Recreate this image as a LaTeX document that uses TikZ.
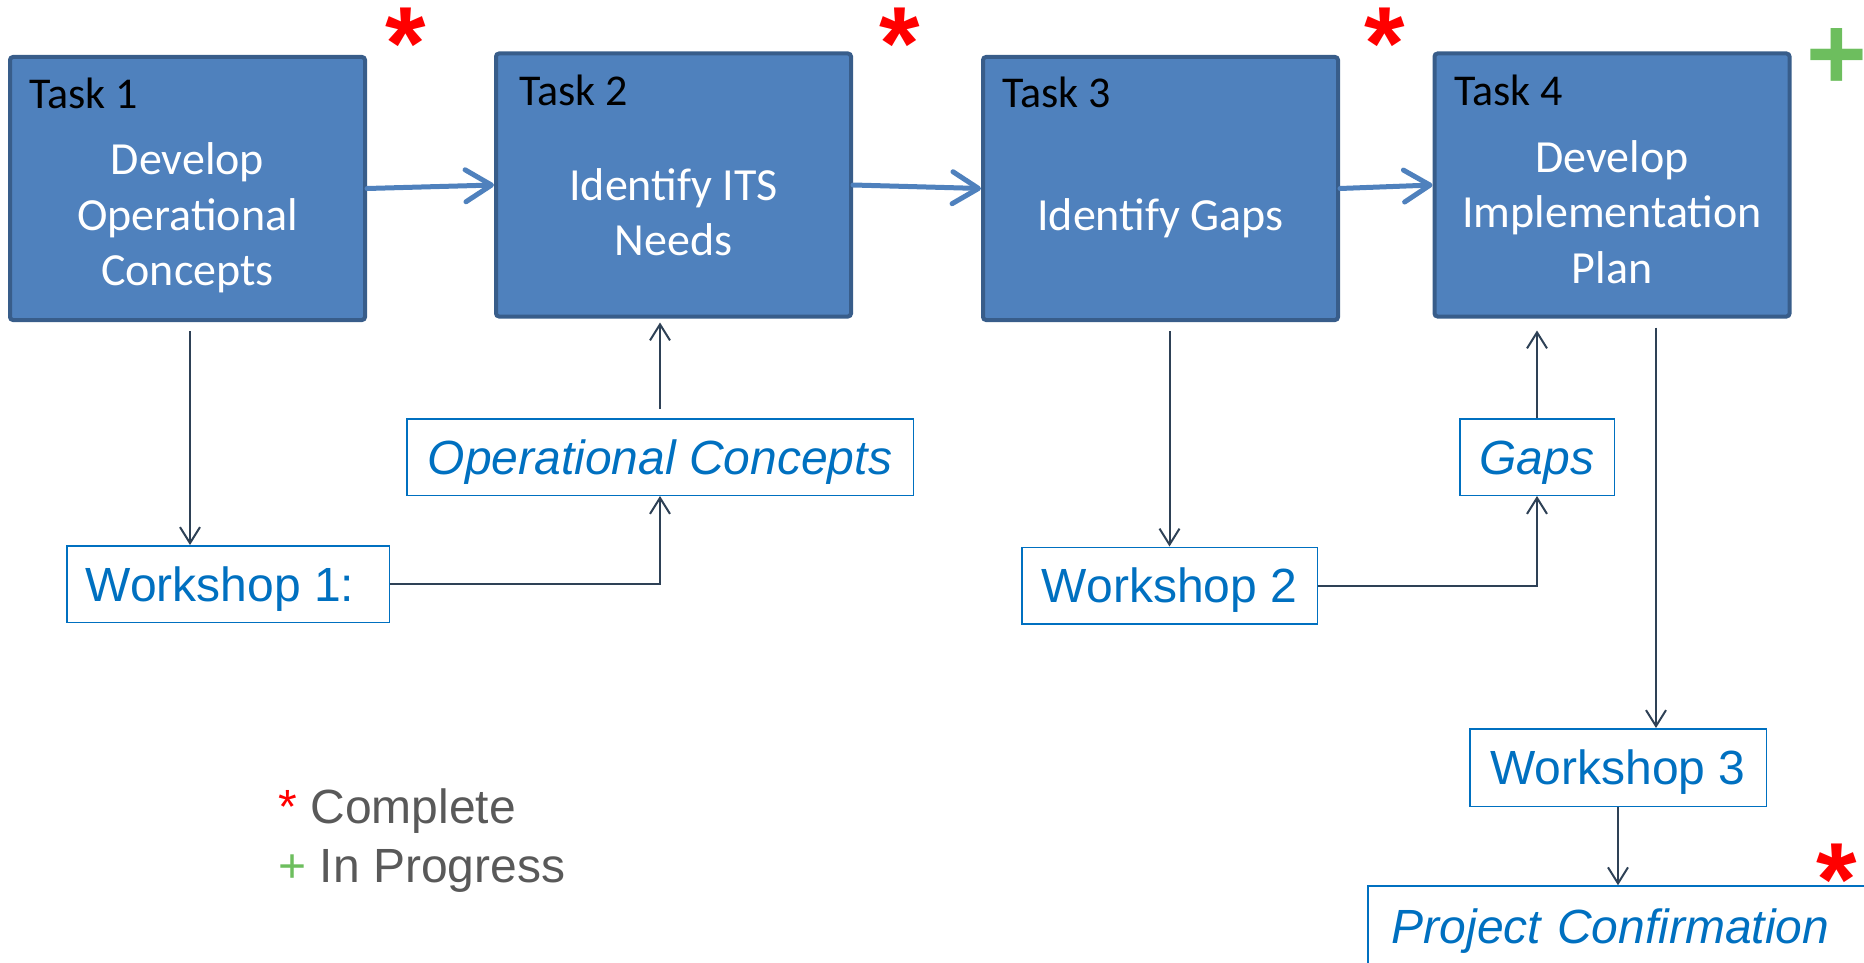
\documentclass[tikz,border=0pt]{standalone}
\usepackage{fontspec}
\setmainfont{Liberation Sans}
\newfontfamily\calibri{Carlito}
\usetikzlibrary{arrows.meta}
\definecolor{taskfill}{HTML}{4F81BD}
\definecolor{taskdraw}{HTML}{385D8A}
\definecolor{wblue}{HTML}{0070C0}
\definecolor{conncol}{HTML}{2E4156}
\definecolor{starred}{HTML}{FF0000}
\definecolor{plusgreen}{HTML}{6DBE5E}
\definecolor{legendgray}{HTML}{595959}
\tikzset{
  taskbox/.style={draw=taskdraw, fill=taskfill, line width=2pt, rounded corners=1.5pt,
    minimum width=177.5pt, minimum height=131.5pt, inner sep=0pt},
  tasklabel/.style={font=\calibri\fontsize{22}{26}\selectfont, text=black, inner sep=0pt, anchor=base west},
  taskbody/.style={font=\calibri\fontsize{23}{27.75}\selectfont, text=white, inner sep=0pt, anchor=base},
  wbox/.style={draw=wblue, line width=0.75pt, text=wblue, font=\fontsize{24}{29}\selectfont,
    inner sep=0pt, minimum height=38.25pt, text height=22pt, text depth=5pt},
  wboxi/.style={wbox, font=\fontsize{24}{29}\selectfont\itshape},
  flow/.style={draw=taskfill, line width=2.5pt, line cap=round,
    -{Straight Barb[length=13pt,width=16pt,round]}},
  conn/.style={draw=conncol, line width=1pt, -{Straight Barb[length=8pt,width=10pt]}},
  starmark/.style={text=starred, font=\bfseries\fontsize{52}{52}\selectfont, inner sep=0pt, anchor=north},
  plusmark/.style={text=plusgreen, font=\bfseries\fontsize{52}{52}\selectfont, inner sep=0pt, anchor=north},
  legendtext/.style={text=legendgray, font=\fontsize{24}{29}\selectfont, inner sep=0pt, anchor=base west}
}
\begin{document}
\begin{tikzpicture}[x=0.5pt,y=-0.5pt]
\useasboundingbox (0,0) rectangle (1864,963);
% task boxes
\node[taskbox] (t1) at (187.5,188.5) {};
\node[taskbox] (t2) at (673.5,185) {};
\node[taskbox] (t3) at (1160.5,188.5) {};
\node[taskbox] (t4) at (1612,185) {};
\node[tasklabel] (t1l) at (29,109) {Task 1};
\node[tasklabel] (t2l) at (519,106) {Task 2};
\node[tasklabel] (t3l) at (1002,108) {Task 3};
\node[tasklabel] (t4l) at (1454,106) {Task 4};
\node[taskbody] (t1b) at (187.5,175) {\begin{tabular}[t]{@{}c@{}}Develop\\Operational\\Concepts\end{tabular}};
\node[taskbody] (t2b) at (673.5,200) {\begin{tabular}[t]{@{}c@{}}Identify ITS\\Needs\end{tabular}};
\node[taskbody] (t3b) at (1160.5,230) {Identify Gaps};
\node[taskbody] (t4b) at (1612,172) {\begin{tabular}[t]{@{}c@{}}Develop\\Implementation\\Plan\end{tabular}};
% blue boxes
\node[wbox, minimum width=161.25pt] (w1) at (228,584) {Workshop 1:\hspace*{8pt}};
\node[wboxi, minimum width=253.25pt] (oc) at (660,457) {Operational Concepts};
\node[wbox, minimum width=147.75pt] (w2) at (1169.5,585.5) {Workshop 2};
\node[wboxi, minimum width=77.25pt] (gaps) at (1537,457) {Gaps};
\node[wbox, minimum width=148.25pt, minimum height=38.75pt] (w3) at (1618,767.5) {Workshop 3};
\node[wboxi, anchor=west, text width=250pt, align=left, inner xsep=12pt, minimum height=40pt] (pc) at (1367,926) {Project Confirmation};
% flow arrows
\draw[flow] (t1.east) -- (t2.west);
\draw[flow] (t2.east) -- (t3.west);
\draw[flow] (t3.east) -- (t4.west);
% connectors
\draw[conn] (t1.south) ++(2.5,9) coordinate (c1) -- (c1 |- w1.north);
\draw[conn] (w1.east) -| (oc.south);
\draw[conn, shorten >=2pt] (oc.north) ++(0,-9) coordinate (c2) -- (c2 |- t2.south);
\draw[conn] (w2.north |- t3.south) ++(0,9) coordinate (c3) -- (w2.north);
\draw[conn] (w2.east) -| (gaps.south);
\draw[conn, shorten >=6pt] (gaps.north) -- (gaps.north |- t4.south);
\draw[conn] (t4.south) ++(44,9) coordinate (c4) -- (c4 |- w3.north);
\draw[conn] (w3.south) -- (w3.south |- pc.north);
% status marks
\node[starmark] (s1) at (406,8) {*};
\node[starmark] (s2) at (900,8) {*};
\node[starmark] (s3) at (1385,8) {*};
\node[starmark] (s4) at (1837,844) {*};
\node[plusmark] (p4) at (1837,28) {+};
% legend
\node[legendtext] (lg1) at (278,823) {\textcolor{starred}{*} Complete};
\node[legendtext] (lg2) at (278,882) {\textcolor{plusgreen}{+} In Progress};
\end{tikzpicture}
\end{document}
